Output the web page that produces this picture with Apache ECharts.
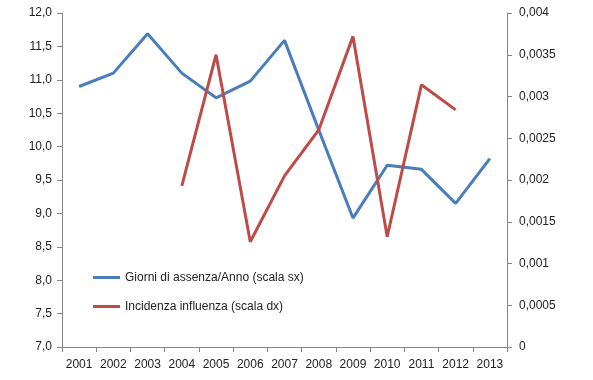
<!DOCTYPE html>
<html><head><meta charset="utf-8">
<script src="https://cdn.jsdelivr.net/npm/echarts@6/dist/echarts.min.js"></script>
<style>html,body{margin:0;padding:0;background:#fff}#c{width:593px;height:380px}</style>
</head><body><div id="c"></div>
<script>
const years = ['2001','2002','2003','2004','2005','2006','2007','2008','2009','2010','2011','2012','2013'];
const giorni = [10.90, 11.10, 11.69, 11.10, 10.73, 10.98, 11.59, 10.25, 8.93, 9.72, 9.66, 9.15, 9.82];
const incidenza = [null, null, null, 0.00193, 0.00350, 0.00126, 0.00205, 0.00260, 0.00372, 0.00132, 0.00314, 0.00284, null];
const nameGiorni = 'Giorni di assenza/Anno (scala sx)';
const nameIncid = 'Incidenza influenza (scala dx)';

const font = 'Liberation Sans';
const axisCol = '#868686';
const chart = echarts.init(document.getElementById('c'), null, {renderer:'canvas'});
chart.setOption({
  animation:false,
  backgroundColor:'#fff',
  grid:{left:62, right:86, top:13, bottom:33},
  legend:{
    orient:'vertical', left:93, top:270, padding:0, icon:'rect', itemWidth:27, itemHeight:3, itemGap:14,
    textStyle:{fontFamily:font, fontSize:12, color:'#222', lineHeight:15},
    data:[nameGiorni, nameIncid]
  },
  xAxis:{
    type:'category', data:years, boundaryGap:true,
    axisLine:{lineStyle:{color:axisCol, width:1}},
    axisTick:{show:true, length:5, interval:0, lineStyle:{color:axisCol}},
    axisLabel:{fontFamily:font, fontSize:12, color:'#222', margin:12, interval:0}
  },
  yAxis:[
    {type:'value', min:7, max:12, interval:0.5, position:'left',
     axisLine:{show:true, lineStyle:{color:axisCol}},
     axisTick:{show:true, length:5, lineStyle:{color:axisCol}},
     splitLine:{show:false},
     axisLabel:{fontFamily:font, fontSize:12, color:'#222', margin:10,
       formatter:v=>v.toFixed(1).replace('.',',')}},
    {type:'value', min:0, max:0.004, interval:0.0005, position:'right',
     axisLine:{show:true, lineStyle:{color:axisCol}},
     axisTick:{show:true, length:5, lineStyle:{color:axisCol}},
     splitLine:{show:false},
     axisLabel:{fontFamily:font, fontSize:12, color:'#222', margin:12,
       formatter:v=>String(parseFloat(v.toFixed(4))).replace('.',',')}}
  ],
  series:[
    {name:nameGiorni, type:'line', yAxisIndex:0, data:giorni, symbol:'none',
     lineStyle:{color:'#4A7EBB', width:3}, itemStyle:{color:'#4A7EBB'}},
    {name:nameIncid, type:'line', yAxisIndex:1, data:incidenza, symbol:'none', connectNulls:false,
     lineStyle:{color:'#BE4B48', width:3}, itemStyle:{color:'#BE4B48'}}
  ]
});
</script></body></html>
